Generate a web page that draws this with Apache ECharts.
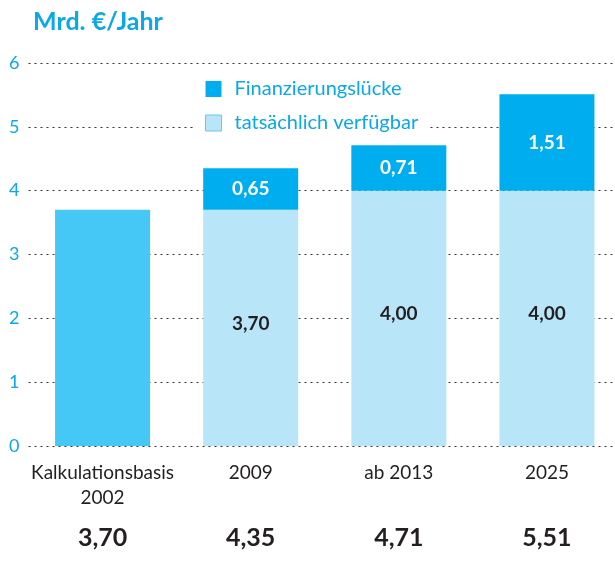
<!DOCTYPE html>
<html>
<head>
<meta charset="utf-8">
<script src="https://cdn.jsdelivr.net/npm/echarts@6/dist/echarts.min.js"></script>
<style>
  html, body { margin: 0; padding: 0; background: #fff; overflow: hidden; }
  #chart { width: 621px; height: 570px; }
</style>
</head>
<body>
<div id="chart"></div>
<script>
// data
var categories = ['Kalkulationsbasis\n2002', '2009', 'ab 2013', '2025'];
var basis = [3.70, '-', '-', '-'];
var verfuegbar = ['-', 3.70, 4.00, 4.00];
var luecke = ['-', 0.65, 0.71, 1.51];
var yTicks = [0, 1, 2, 3, 4, 5, 6];

function num(v) { return typeof v === 'number' ? v : 0; }
var totals = categories.map(function (c, i) {
  return (num(basis[i]) + num(verfuegbar[i]) + num(luecke[i])).toFixed(2).replace('.', ',');
});

var blue = '#0aa8e6';
var dark = '#231f20';
var font = 'Lato';

// plot runs a little past the right edge of the window, like the original
var chart = echarts.init(document.getElementById('chart'));
chart.setOption({
  animation: false,
  textStyle: { fontFamily: font },
  title: {
    text: 'Mrd. €/Jahr',
    left: 28, top: 4,
    textStyle: { color: blue, fontSize: 25, fontWeight: 'bold', fontFamily: font }
  },
  legend: {
    data: [
      { name: 'Finanzierungslücke' },
      { name: 'tatsächlich verfügbar', itemStyle: { borderColor: '#6cc6ee', borderWidth: 1 } }
    ],
    orient: 'vertical',
    left: 196, top: 73,
    icon: 'rect',
    padding: [6, 10, 6, 9],
    itemWidth: 16, itemHeight: 16, itemGap: 14,
    backgroundColor: '#fff',
    textStyle: { color: blue, fontSize: 20, fontFamily: font, padding: [0, 0, 0, 8] }
  },
  grid: { left: 28.5, top: 63, right: 0, bottom: 124, containLabel: false },
  xAxis: [{
    type: 'category',
    data: categories,
    axisLine: { show: false },
    axisTick: { show: false },
    axisLabel: { interval: 0, color: dark, fontSize: 19, lineHeight: 25, margin: 14, fontFamily: font }
  }, {
    type: 'category',
    position: 'bottom',
    data: totals,
    axisLine: { show: false },
    axisTick: { show: false },
    axisLabel: { interval: 0, color: dark, fontSize: 25, fontWeight: 'bold', margin: 79, fontFamily: font }
  }],
  yAxis: {
    type: 'value',
    min: yTicks[0], max: yTicks[yTicks.length - 1], interval: 1,
    axisLine: { show: false },
    axisTick: { show: false },
    axisLabel: { color: blue, fontSize: 18, margin: 9, padding: [0, 0, 8, 0], fontFamily: font },
    splitLine: { lineStyle: { type: [2, 4], color: '#333', width: 1 } }
  },
  series: [{
    name: 'Kalkulationsbasis',
    type: 'bar', stack: 'a', barWidth: 95,
    data: basis,
    itemStyle: { color: '#45c8f5' }
  }, {
    name: 'tatsächlich verfügbar',
    type: 'bar', stack: 'a', barWidth: 95,
    data: verfuegbar,
    itemStyle: { color: '#b9e5f9' },
    label: {
      show: true, position: 'inside', offset: [0, -4],
      color: dark, fontSize: 19, fontWeight: 'bold', fontFamily: font,
      formatter: function (p) { return p.value.toFixed(2).replace('.', ','); }
    }
  }, {
    name: 'Finanzierungslücke',
    type: 'bar', stack: 'a', barWidth: 95,
    data: luecke,
    itemStyle: { color: '#00aeef' },
    label: {
      show: true, position: 'inside',
      color: '#fff', fontSize: 19, fontWeight: 'bold', fontFamily: font,
      formatter: function (p) { return p.value.toFixed(2).replace('.', ','); }
    }
  }]
});
</script>
</body>
</html>
